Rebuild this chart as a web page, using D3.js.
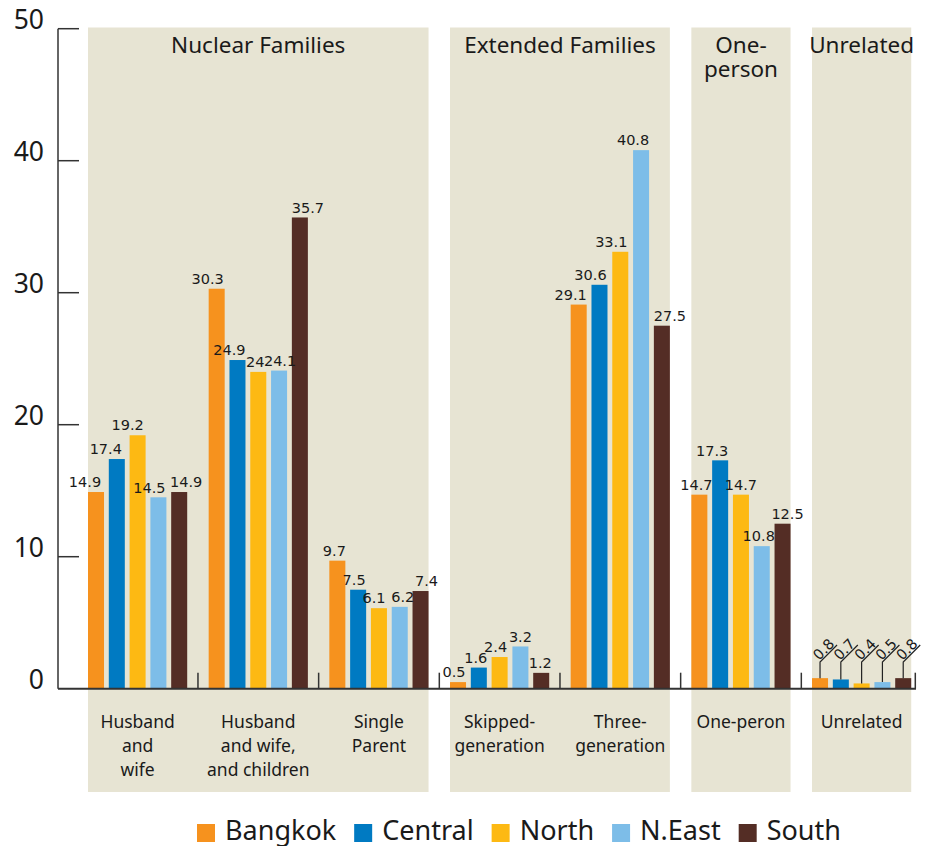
<!DOCTYPE html>
<html>
<head>
<meta charset="utf-8">
<script src="https://cdn.jsdelivr.net/npm/d3@7"></script>
<style>
  html, body { margin: 0; padding: 0; background: #fff; }
  svg { display: block; }
</style>
</head>
<body>
<svg id="chart" width="928" height="846"></svg>
<script>
// Household types by region (percent)
const categories = ["Husband and wife", "Husband and wife, and children", "Single Parent",
  "Skipped-generation", "Three-generation", "One-peron", "Unrelated"];
const categoryLines = [["Husband", "and", "wife"], ["Husband", "and wife,", "and children"],
  ["Single", "Parent"], ["Skipped-", "generation"], ["Three-", "generation"], ["One-peron"], ["Unrelated"]];
const series = ["Bangkok", "Central", "North", "N.East", "South"];
const bangkok = [14.9, 30.3, 9.7, 0.5, 29.1, 14.7, 0.8];
const central = [17.4, 24.9, 7.5, 1.6, 30.6, 17.3, 0.7];
const north   = [19.2, 24, 6.1, 2.4, 33.1, 14.7, 0.4];
const neast   = [14.5, 24.1, 6.2, 3.2, 40.8, 10.8, 0.5];
const south   = [14.9, 35.7, 7.4, 1.2, 27.5, 12.5, 0.8];
const yTicks = [0, 10, 20, 30, 40, 50];

// Family-type panels behind the groups
const panelTitles = [["Nuclear Families"], ["Extended Families"], ["One-", "person"], ["Unrelated"]];
const panelFirst = [0, 3, 5, 6];
const panelLast  = [2, 4, 5, 6];

// Horizontal nudges for crowded value labels (per category, per region)
const labelNudge = [
  [-11, -11, -10, -9, 7],
  [-9, -8, -3, 1, 8],
  [-3, -4, -5, 3, 6],
  [-4, -3, -4, 0, -1],
  [-8, -9, -9, -8, 8],
  [-3, -8, 0, -3, 5],
  [0, 0, 0, 0, 0]
];

const colors = ["#F6921E", "#007AC2", "#FDB913", "#7DBDE8", "#542D25"];
const valuesBySeries = [bangkok, central, north, neast, south];

const svg = d3.select("#chart");
const uiFont = "'Noto Sans', 'Open Sans', sans-serif";
const numFont = "'DejaVu Sans', sans-serif";
const ink = "#1a1a1a";

const x = d3.scaleBand().domain(categories).range([78, 78 + 120.67 * 7]);
const xs = d3.scaleBand().domain(series).range([10, 109.2]).paddingInner(0.23).paddingOuter(0);
const y = d3.scaleLinear().domain([0, 50]).range([688.7, 28.7]);
const color = d3.scaleOrdinal().domain(series).range(colors);

const axisRight = 916;

// Panels
const panelG = svg.append("g");
panelTitles.forEach((lines, i) => {
  const x0 = x(categories[panelFirst[i]]) + xs.range()[0];
  const x1 = x(categories[panelLast[i]]) + xs.range()[1];
  panelG.append("rect")
    .attr("x", x0).attr("y", y(50) - 1.2)
    .attr("width", x1 - x0).attr("height", 792 - (y(50) - 1.2))
    .attr("fill", "#E7E4D3");
  const t = panelG.append("text")
    .attr("x", (x0 + x1) / 2).attr("y", 53.3)
    .attr("text-anchor", "middle")
    .attr("font-family", uiFont).attr("font-size", 22.5).attr("fill", ink);
  lines.forEach((ln, j) => t.append("tspan").attr("x", (x0 + x1) / 2).attr("dy", j === 0 ? 0 : 24).text(ln));
});

// Bars
const rows = [];
categories.forEach((c, ci) => series.forEach((s, si) => rows.push({ c, ci, s, si, v: valuesBySeries[si][ci] })));

const barG = svg.append("g");
barG.selectAll("rect").data(rows).join("rect")
  .attr("x", d => x(d.c) + xs(d.s))
  .attr("y", d => y(d.v))
  .attr("width", xs.bandwidth())
  .attr("height", d => y(0) - y(d.v))
  .attr("fill", d => color(d.s));

// Y axis
const axG = svg.append("g").attr("stroke", "#333");
axG.append("line").attr("x1", 58).attr("x2", 58).attr("y1", y(50)).attr("y2", y(0)).attr("stroke-width", 1.5);
axG.selectAll("line.tick").data(yTicks.filter(t => t > 0)).join("line")
  .attr("class", "tick")
  .attr("x1", 58).attr("x2", 79)
  .attr("y1", d => y(d)).attr("y2", d => y(d))
  .attr("stroke-width", 1.5);
svg.append("g").selectAll("text").data(yTicks).join("text")
  .attr("x", 44).attr("y", d => y(d) + 0.6)
  .attr("text-anchor", "end")
  .attr("font-family", uiFont).attr("font-size", 26.5).attr("fill", ink)
  .text(d => d);

// X baseline and group separators
axG.append("line").attr("x1", 58).attr("x2", axisRight).attr("y1", y(0)).attr("y2", y(0)).attr("stroke-width", 2);
const sepX = categories.slice(1).map(c => x(c) - 0.7).concat([axisRight - 0.7]);
axG.selectAll("line.sep").data(sepX).join("line")
  .attr("class", "sep")
  .attr("x1", d => d).attr("x2", d => d)
  .attr("y1", y(0)).attr("y2", y(0) - 16)
  .attr("stroke-width", 1.5);

// Category labels
const catG = svg.append("g");
categories.forEach((c, ci) => {
  const cx = x(c) + (xs.range()[0] + xs.range()[1]) / 2;
  const t = catG.append("text")
    .attr("x", cx).attr("y", 728)
    .attr("text-anchor", "middle")
    .attr("font-family", uiFont).attr("font-size", 17.5).attr("fill", ink);
  categoryLines[ci].forEach((ln, j) => t.append("tspan").attr("x", cx).attr("dy", j === 0 ? 0 : 24).text(ln));
});

// Value labels
const lastCat = categories[categories.length - 1];
const valG = svg.append("g").attr("font-family", numFont).attr("font-size", 14.5).attr("fill", ink);
valG.selectAll("text").data(rows.filter(d => d.c !== lastCat)).join("text")
  .attr("x", d => x(d.c) + xs(d.s) + xs.bandwidth() / 2 + labelNudge[d.ci][d.si])
  .attr("y", d => y(d.v) - 4.8)
  .attr("text-anchor", "middle")
  .text(d => d.v);

// Small values get a leader line and a slanted label
const leadTop = 662;
const slant = rows.filter(d => d.c === lastCat);
const leadG = svg.append("g").attr("stroke", "#222").attr("stroke-width", 1.2).attr("fill", "none");
slant.forEach(d => {
  const cx = x(d.c) + xs(d.s) + xs.bandwidth() / 2;
  leadG.append("path").attr("d", `M${cx},${y(d.v)}V${leadTop}l17,-17`);
  valG.append("text")
    .attr("transform", `translate(${cx - 1},${leadTop - 1}) rotate(-45)`)
    .attr("text-anchor", "start")
    .text(d.v);
});

// Legend
const legG = svg.append("g").attr("font-family", uiFont).attr("font-size", 27).attr("fill", ink);
let lx = 197;
series.forEach((s, i) => {
  legG.append("rect").attr("x", lx).attr("y", 824).attr("width", 18).attr("height", 18).attr("fill", color(s));
  const t = legG.append("text").attr("x", lx + 28).attr("y", 839.5).text(s);
  lx += 28 + t.node().getComputedTextLength() + 18;
});
</script>
</body>
</html>
